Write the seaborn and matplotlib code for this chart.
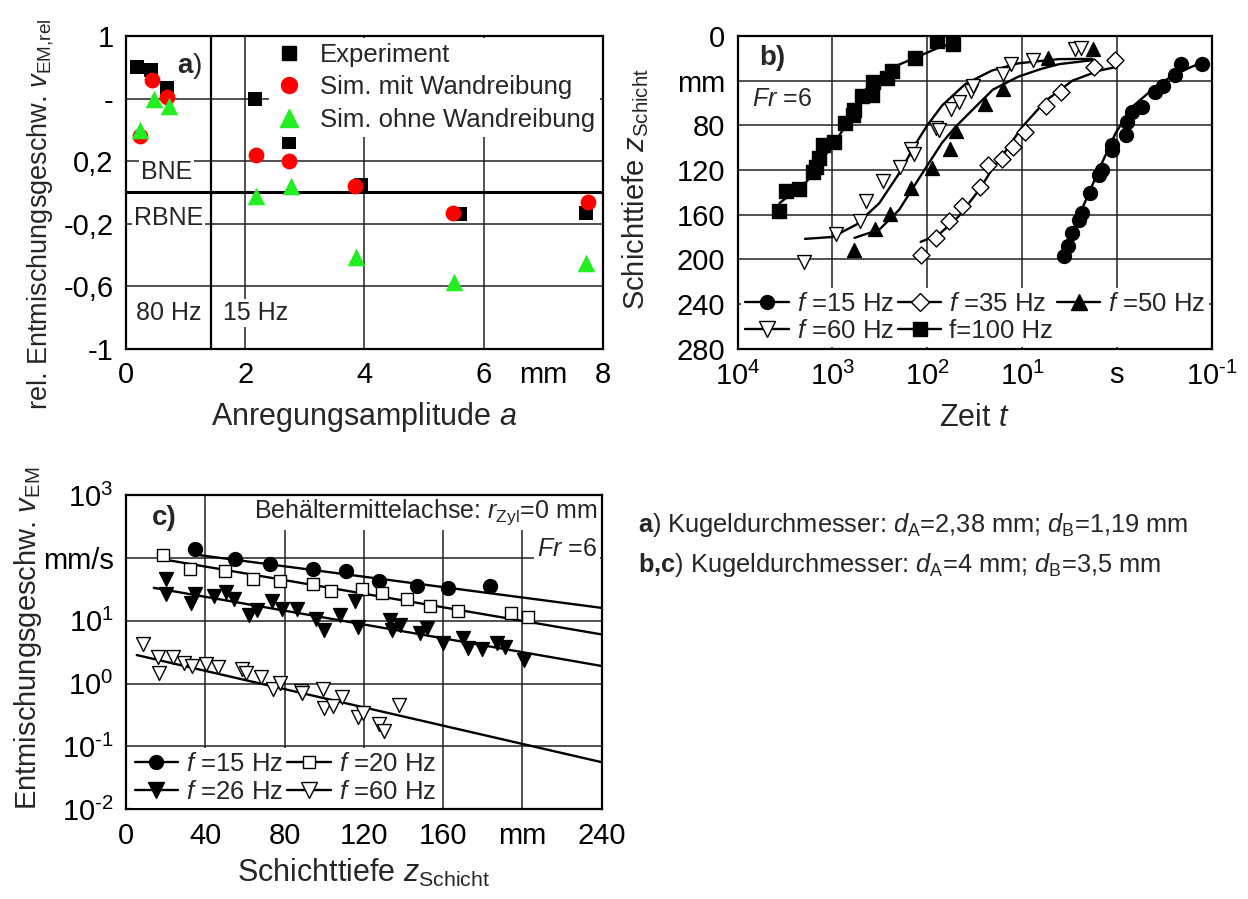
import numpy as np
import pandas as pd
import seaborn as sns
import matplotlib
matplotlib.use("Agg")
import matplotlib.pyplot as plt
from matplotlib.lines import Line2D

# ---------------- Panel a) data ----------------
a_exp_x = [0.19, 0.42, 0.69, 2.16, 2.73, 3.95, 5.60, 7.72]
a_exp_y = [0.80, 0.78, 0.67, 0.60, 0.32, 0.05, -0.14, -0.13]
a_mit_x = [0.24, 0.43, 0.69, 2.18, 2.74, 3.85, 5.49, 7.75]
a_mit_y = [0.36, 0.72, 0.61, 0.24, 0.20, 0.04, -0.13, -0.06]
a_ohne_x = [0.24, 0.47, 0.72, 2.18, 2.76, 3.86, 5.51, 7.72]
a_ohne_y = [0.40, 0.60, 0.55, -0.02, 0.04, -0.41, -0.57, -0.45]
a_xticks = [0, 2, 4, 6, 7, 8]
a_xticklabels = ["0", "2", "4", "6", "mm", "8"]
a_yticks = [1, 0.6, 0.2, -0.2, -0.6, -1]
a_yticklabels = ["1", "-", "0,2", "-0,2", "-0,6", "-1"]
a_separator = 1.43

# ---------------- Panel b) data ----------------
b15_t = [0.213, 0.126, 0.245, 0.325, 0.397, 0.548, 0.697, 0.785, 0.80, 1.127, 1.13,
         1.435, 1.556, 1.901, 2.323, 2.518, 2.951, 3.251, 3.606]
b15_z = [25.2, 25.2, 35.0, 44.4, 50.4, 63.7, 68.1, 77.0, 88.9, 97.8, 102.2,
         120.0, 124.4, 140.7, 158.5, 164.4, 176.3, 188.1, 197.0]
b35_t = [117.5, 81.8, 58.9, 42.7, 27.5, 22.9, 16.2, 12.6, 9.23, 5.56, 3.89, 1.74, 1.04]
b35_z = [196, 181, 166, 152, 135, 115.6, 110.5, 99.8, 85.6, 62.3, 50, 28.2, 21.2]
b50_t = [589, 355, 245, 150, 89, 58.2, 50.1, 24.5, 15.8, 5.37, 1.78]
b50_z = [192, 173, 159, 136.5, 118, 101, 85.5, 61, 47.4, 19.5, 11.5]
b60_t = [1995, 912, 513, 445, 295, 195, 148, 138, 81.3, 75.9, 55.6, 46.2, 34.7, 32.7,
         15.8, 13.2, 7.59, 2.79, 2.40]
b60_z = [201.9, 177.6, 165.7, 147.3, 129.7, 117.3, 101.5, 105.4, 82.5, 84.6, 65.3, 59.4,
         49.0, 44.5, 33.6, 25.2, 21.7, 11.9, 10.4]
b100_t = [3648, 3090, 2270, 1607, 1479, 1371, 1256, 970, 729, 610, 593, 490, 384, 372,
          263, 236, 135, 78, 53]
b100_z = [156.5, 138.7, 136.9, 122, 117, 109.6, 97.4, 94.7, 78, 70.4, 66.2, 53.4, 52.8,
          41, 37.7, 31.2, 19.9, 4.5, 6.8]
# fitted curves
c15_t = [3.76, 2.52, 1.556, 1.04, 0.697, 0.397, 0.245, 0.14]
c15_z = [197, 161.5, 120, 87.4, 63.7, 45.9, 34.1, 25.2]
c35_t = [117.5, 75.5, 46.7, 28.8, 20.9, 15.8, 10, 5.61, 2.95, 1.556, 1.0]
c35_z = [184.3, 177.8, 161.5, 138.5, 120, 106, 81.5, 57.8, 40, 31.1, 27.6]
c50_t = [585, 320, 198, 132, 100, 69.7, 50.6, 33.9, 20.3, 11.0, 6.31, 4.07, 1.78]
c50_z = [180.7, 173.3, 155.6, 132, 116, 95.5, 81.5, 66.7, 48, 36.5, 29.5, 25.2, 21.6]
c60_t = [1945, 1000, 561, 320, 198, 132, 100, 69.7, 39.7, 20.9, 11.0, 4.07, 1.82]
c60_z = [181.6, 179.9, 168.9, 149.6, 123, 96.3, 80, 62.2, 43, 31, 24.5, 20.7, 20.5]
c100_t = [3606, 1871, 1000, 659, 376, 232, 132, 75.5, 54.8]
c100_z = [149.6, 130.4, 97.8, 75.6, 43, 28.1, 19.3, 10.4, 6.8]
b_xticks = [1e4, 1e3, 1e2, 1e1, 1, 1e-1]
b_xticklabels = [r"$10^{4}$", r"$10^{3}$", r"$10^{2}$", r"$10^{1}$", "s", "$10^{\u20101}$"]
b_yticks = [0, 40, 80, 120, 160, 200, 240, 280]
b_yticklabels = ["0", "mm", "80", "120", "160", "200", "240", "280"]

# ---------------- Panel c) data ----------------
c_15_z = [34.7, 55.1, 72.9, 94.2, 110.8, 127.8, 146.8, 162.7, 183.7]
c_15_v = [138, 98.4, 81.8, 68.1, 62.5, 43.4, 35.6, 33.6, 35.6]
c_20_z = [18.4, 32.5, 49.9, 64.3, 77.9, 94.6, 103.2, 119.2, 129.2, 141.8, 153.2, 167.7,
          194.1, 202.7]
c_20_v = [111, 68.1, 62.5, 45.6, 42.9, 38.4, 30.1, 31.6, 27.3, 22.7, 17.1, 14.5, 13.1, 11.6]
c_26_z = [20, 20, 32.9, 34.7, 44.3, 50.7, 54.3, 61.9, 65.9, 73.9, 78.9, 86.3, 95.7, 99.8,
          107.8, 115.6, 117.2, 133.2, 134.2, 138.2, 148.2, 151.8, 160.1, 170.1, 172.5,
          179.7, 187.1, 191.1, 201.1]
c_26_v = [47.2, 26.6, 19.4, 26.6, 24.7, 29.0, 22.7, 12.3, 14.8, 20.8, 15.7, 15.4, 10.7,
          7.13, 12.6, 20.8, 8.05, 10.3, 7.13, 8.55, 6.46, 7.57, 4.37, 5.25, 3.64, 3.51,
          4.48, 3.86, 2.37]
c_60_z = [8.8, 16, 16.8, 23.8, 29.4, 33.3, 40.3, 46.3, 58.3, 60.3, 67.9, 74.3, 77.9, 88.3,
          88.9, 99.2, 99.8, 104.6, 109.2, 117.2, 119.8, 127.8, 130.2, 137.8]
c_60_v = [4.27, 2.62, 1.49, 2.62, 2.10, 1.91, 2.05, 1.82, 1.69, 1.49, 1.29, 0.811, 1.035,
          0.773, 0.700, 0.811, 0.405, 0.441, 0.605, 0.298, 0.337, 0.228, 0.178, 0.457]
fit_15_z, fit_15_v = [34.7, 240], [114, 16.1]
fit_20_z, fit_20_v = [16.4, 240], [98.4, 6.08]
fit_26_z, fit_26_v = [14, 240], [33.6, 1.91]
fit_60_z, fit_60_v = [5.4, 240], [2.85, 0.056]
c_xticks = [0, 40, 80, 120, 160, 200, 240]
c_xticklabels = ["0", "40", "80", "120", "160", "mm", "240"]
c_yticks = [1e-2, 1e-1, 1, 1e1, 1e2, 1e3]
c_yticklabels = ["$10^{\u20102}$", "$10^{\u20101}$", r"$10^{0}$", r"$10^{1}$", "mm/s",
                 r"$10^{3}$"]

# ---------------- style ----------------
sns.set_style("white")
plt.rcParams["font.family"] = ["Liberation Sans", "DejaVu Sans"]
plt.rcParams["mathtext.fontset"] = "custom"
plt.rcParams["mathtext.rm"] = "Liberation Sans"
plt.rcParams["mathtext.it"] = "Liberation Sans:italic"
plt.rcParams["mathtext.bf"] = "Liberation Sans:bold"
plt.rcParams["mathtext.sf"] = "Liberation Sans"

TICK = 21
LABH = 22      # horizontal axis labels
LABV = 20      # rotated axis labels
LEG = 18.5
ANN = 18
GRID_C = "#222222"

fig = plt.figure(figsize=(12.48, 8.99), dpi=100)


def style_axes(ax):
    for s in ax.spines.values():
        s.set_color("black")
        s.set_linewidth(1.6)
        s.set_zorder(6)
    ax.tick_params(axis="both", which="both", direction="out", length=6, width=1.1,
                   labelsize=TICK, top=False, right=False, pad=3, colors="black")
    ax.minorticks_off()


def hgrid(ax, vals, **kw):
    for v in vals:
        ax.axhline(v, color=GRID_C, lw=1.1, zorder=1, **kw)


def vgrid(ax, vals, **kw):
    for v in vals:
        ax.axvline(v, color=GRID_C, lw=1.1, zorder=1, **kw)


wb = dict(facecolor="white", edgecolor="none", pad=1.5)

# ================= Panel a =================
axA = fig.add_axes([0.101, 0.612, 0.382, 0.348])
hgrid(axA, [0.6, 0.2, -0.2, -0.6])
vgrid(axA, [2, 4, 6])
axA.axhline(0, color="black", lw=2.2, zorder=2)
axA.axvline(a_separator, color="black", lw=1.6, zorder=2)
sns.scatterplot(x=a_exp_x, y=a_exp_y, marker="s", color="black", s=115,
                edgecolor="black", linewidth=0, ax=axA, zorder=4, legend=False)
sns.scatterplot(x=a_mit_x, y=a_mit_y, marker="o", color="#ff0000", s=130,
                edgecolor="#ff0000", linewidth=0, ax=axA, zorder=5, legend=False)
sns.scatterplot(x=a_ohne_x, y=a_ohne_y, marker="^", color="#22ee22", s=160,
                edgecolor="#22ee22", linewidth=0, ax=axA, zorder=5, legend=False)
axA.set_xlim(0, 8)
axA.set_ylim(-1, 1)
axA.set_xticks(a_xticks, a_xticklabels)
axA.set_yticks(a_yticks, a_yticklabels)
style_axes(axA)
axA.xaxis.get_major_ticks()[4].tick1line.set_visible(False)
axA.set_xlabel(r"Anregungsamplitude $a$", fontsize=LABH)
axA.set_ylabel(r"rel. Entmischungsgeschw. $v_{\mathrm{EM{,}rel}}$", fontsize=LABV - 0.5)
axA.xaxis.set_label_coords(0.5, -0.217)
axA.xaxis.label.set_va("center")
axA.yaxis.set_label_coords(-0.18, 0.43)
axA.yaxis.label.set_va("center")
axA.text(0.68, 0.13, "BNE", fontsize=ANN, ha="center", va="center", bbox=wb, zorder=3)
axA.text(0.71, -0.165, "RBNE", fontsize=ANN, ha="center", va="center", bbox=wb, zorder=3)
axA.text(0.71, -0.77, "80 Hz", fontsize=ANN, ha="center", va="center", bbox=wb, zorder=3)
axA.text(2.18, -0.77, "15 Hz", fontsize=ANN, ha="center", va="center", bbox=wb, zorder=3)
axA.text(0.86, 0.81, r"$\mathbf{a}$)", fontsize=ANN + 2, ha="left", va="center", zorder=3)
hA = [Line2D([], [], ls="none", marker="s", color="black", markersize=10.5),
      Line2D([], [], ls="none", marker="o", color="#ff0000", markersize=11.5),
      Line2D([], [], ls="none", marker="^", color="#22ee22", markersize=12.5)]
legA = axA.legend(hA, ["Experiment", "Sim. mit Wandreibung", "Sim. ohne Wandreibung"],
                  loc="upper right", bbox_to_anchor=(0.995, 0.995), fontsize=LEG,
                  frameon=True, facecolor="white", edgecolor="none", framealpha=1,
                  borderpad=0.2, labelspacing=0.33, handletextpad=0.6,
                  handlelength=1.2, borderaxespad=0.0, fancybox=False)
legA.set_zorder(7)

# ================= Panel b =================
axB = fig.add_axes([0.591, 0.612, 0.380, 0.348])
hgrid(axB, [40, 80, 120, 160, 200, 240])
vgrid(axB, [1e3, 1e2, 1e1, 1])
LW = 1.7
series_b = [
    (b15_t, b15_z, c15_t, c15_z, "o", "black"),
    (b35_t, b35_z, c35_t, c35_z, "D", "white"),
    (b50_t, b50_z, c50_t, c50_z, "^", "black"),
    (b60_t, b60_z, c60_t, c60_z, "v", "white"),
    (b100_t, b100_z, c100_t, c100_z, "s", "black"),
]
for tt, zz, ct, cz, mk, fc in series_b:
    sns.lineplot(x=ct, y=cz, sort=False, estimator=None, color="black", lw=LW,
                 ax=axB, zorder=3, legend=False)
    ms = 100 if mk != "D" else 75
    sns.scatterplot(x=tt, y=zz, marker=mk, color=fc, edgecolor="black",
                    linewidth=1.0, s=ms, ax=axB, zorder=4, legend=False)
axB.set_xscale("log")
axB.set_xlim(1e4, 1e-1)
axB.set_ylim(280, 0)
axB.set_xticks(b_xticks, b_xticklabels)
axB.set_yticks(b_yticks, b_yticklabels)
style_axes(axB)
axB.set_xlabel(r"Zeit $t$", fontsize=LABH)
axB.set_ylabel(r"Schichttiefe $z_{\mathrm{Schicht}}$", fontsize=LABV + 1)
axB.xaxis.set_label_coords(0.5, -0.22)
axB.xaxis.label.set_va("center")
axB.yaxis.set_label_coords(-0.215, 0.51)
axB.yaxis.label.set_va("center")
axB.text(0.045, 0.928, "b)", transform=axB.transAxes, fontsize=ANN + 2,
         fontweight="bold", ha="left", va="center", zorder=3)
axB.text(0.03, 0.80, r"$Fr$ =6", transform=axB.transAxes, fontsize=ANN,
         ha="left", va="center", zorder=3)


def hnd(mk, fc, ms=10):
    return Line2D([], [], color="black", lw=LW, marker=mk, markerfacecolor=fc,
                  markeredgecolor="black", markersize=ms)


hB = [hnd("o", "black"), hnd("v", "white", 11), hnd("D", "white", 9),
      hnd("s", "black"), hnd("^", "black", 11)]
lB = [r"$f$ =15 Hz", r"$f$ =60 Hz", r"$f$ =35 Hz", "f=100 Hz", r"$f$ =50 Hz"]
legB = axB.legend(hB, lB, ncol=3, loc="lower left", bbox_to_anchor=(0.008, 0.005),
                  fontsize=LEG, frameon=True, facecolor="white", edgecolor="none",
                  framealpha=1, borderpad=0.15, labelspacing=0.15, handletextpad=0.3,
                  handlelength=1.7, columnspacing=0.15, borderaxespad=0.0,
                  fancybox=False)
legB.set_zorder(7)

# ================= Panel c =================
axC = fig.add_axes([0.101, 0.100, 0.381, 0.349])
hgrid(axC, [1e-1, 1, 1e1, 1e2])
vgrid(axC, [40, 80, 120, 160, 200])
for fz, fv in [(fit_15_z, fit_15_v), (fit_20_z, fit_20_v), (fit_26_z, fit_26_v),
               (fit_60_z, fit_60_v)]:
    sns.lineplot(x=fz, y=fv, color="black", lw=LW, ax=axC, zorder=3, legend=False)
for zz, vv, mk, fc in [(c_15_z, c_15_v, "o", "black"), (c_20_z, c_20_v, "s", "white"),
                       (c_26_z, c_26_v, "v", "black"), (c_60_z, c_60_v, "v", "white")]:
    sns.scatterplot(x=zz, y=vv, marker=mk, color=fc, edgecolor="black", linewidth=1.0,
                    s=100 if mk != "s" else 80, ax=axC, zorder=4, legend=False)
axC.set_yscale("log")
axC.set_xlim(0, 240)
axC.set_ylim(1e-2, 1e3)
axC.set_xticks(c_xticks, c_xticklabels)
axC.set_yticks(c_yticks, c_yticklabels)
style_axes(axC)
axC.set_xlabel(r"Schichttiefe $z_{\mathrm{Schicht}}$", fontsize=LABH)
axC.set_ylabel(r"Entmischungsgeschw. $v_{\mathrm{EM}}$", fontsize=LABV + 1)
axC.xaxis.set_label_coords(0.5, -0.204)
axC.xaxis.label.set_va("center")
axC.yaxis.set_label_coords(-0.206, 0.545)
axC.yaxis.label.set_va("center")
axC.text(0.055, 0.927, "c)", transform=axC.transAxes, fontsize=ANN + 2,
         fontweight="bold", ha="left", va="center", zorder=3)
axC.text(0.99, 0.945, r"Behältermittelachse: $r_{\mathrm{Zyl}}$=0 mm",
         transform=axC.transAxes, fontsize=ANN, ha="right", va="center",
         bbox=dict(facecolor="white", edgecolor="none", pad=2), zorder=3)
axC.text(0.99, 0.83, r"$Fr$ =6", transform=axC.transAxes, fontsize=ANN,
         ha="right", va="center",
         bbox=dict(facecolor="white", edgecolor="none", pad=2), zorder=3)
hC = [hnd("o", "black"), hnd("v", "black", 11), hnd("s", "white", 9),
      hnd("v", "white", 11)]
lC = [r"$f$ =15 Hz", r"$f$ =26 Hz", r"$f$ =20 Hz", r"$f$ =60 Hz"]
legC = axC.legend(hC, lC, ncol=2, loc="lower left", bbox_to_anchor=(0.01, 0.005),
                  fontsize=LEG, frameon=True, facecolor="white", edgecolor="none",
                  framealpha=1, borderpad=0.15, labelspacing=0.15, handletextpad=0.3,
                  handlelength=1.7, columnspacing=0.15, borderaxespad=0.0,
                  fancybox=False)
legC.set_zorder(7)

# ================= Right-hand note =================
fig.text(638 / 1248, 1 - 525 / 899,
         r"$\mathbf{a}$) Kugeldurchmesser: $d_{\mathrm{A}}$=2,38 mm; $d_{\mathrm{B}}$=1,19 mm",
         fontsize=ANN + 0.3, ha="left", va="center")
fig.text(638 / 1248, 1 - 565 / 899,
         r"$\mathbf{b{,}c}$) Kugeldurchmesser: $d_{\mathrm{A}}$=4 mm; $d_{\mathrm{B}}$=3,5 mm",
         fontsize=ANN + 0.3, ha="left", va="center")

fig.savefig("out.png", dpi=100, facecolor="white")
